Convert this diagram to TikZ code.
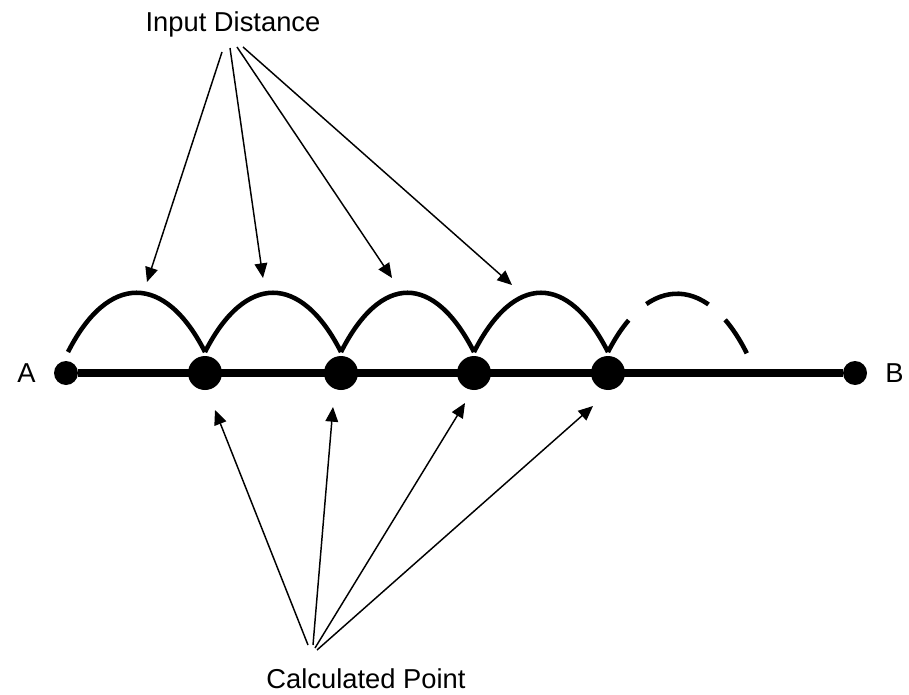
\documentclass[tikz,border=0pt]{standalone}
\usepackage{fontspec}
\setmainfont{Liberation Sans}
\usetikzlibrary{arrows.meta,positioning,calc}

\begin{document}
\begin{tikzpicture}[
    x=0.75pt, y=-0.75pt,
    node distance=10pt,
    every node/.style={font=\fontsize{20.5}{24}\selectfont},
    dot/.style={circle, fill, inner sep=0pt, minimum size=25.5pt},
    enddot/.style={circle, fill, inner sep=0pt, minimum size=18pt},
    hop/.style={line width=3.4pt},
    guess/.style={hop, dash pattern=on 28.5pt off 18pt on 50pt off 17pt on 30pt off 60pt},
    arrow/.style={-{Triangle[length=11pt,width=9.5pt]}, line width=1.1pt}
]
\useasboundingbox (0,0) rectangle (909,695);

% segment A--B with the calculated points
\node[enddot] (a) at (66,373) {};
\node[enddot] (b) at (855,373) {};
\node[dot] (p1) at (205,373) {};
\node[dot] (p2) at (341,373) {};
\node[dot] (p3) at (474,373) {};
\node[dot] (p4) at (608,373) {};
\draw[line width=6pt] (a) -- (b);
\node[left=of a] (la) {A};
\node[right=of b] (lb) {B};

% hops of the input distance
\coordinate (t0) at (68,352);
\coordinate (t1) at (205,352);
\coordinate (t2) at (341,352);
\coordinate (t3) at (474,352);
\coordinate (t4) at (608,352);
\coordinate (t5) at (750,360);
\draw[hop] (t0) .. controls +(40,-79) and +(-40,-79) .. (t1);
\draw[hop] (t1) .. controls +(40,-79) and +(-40,-79) .. (t2);
\draw[hop] (t2) .. controls +(40,-79) and +(-40,-79) .. (t3);
\draw[hop] (t3) .. controls +(40,-79) and +(-40,-79) .. (t4);
\draw[guess] (t4) .. controls +(40,-79) and +(-40,-87) .. (t5);

% labels
\node[anchor=base] (dist) at (233,32) {Input Distance};
\node[anchor=base] (calc) at (366,688) {Calculated Point};

\coordinate (i1) at (222,52);
\coordinate (i2) at (230,48);
\coordinate (i3) at (237,47);
\coordinate (i4) at (243,47);
\coordinate (h1) at (147,282);
\coordinate (h2) at (263,278);
\coordinate (h3) at (392,278);
\coordinate (h4) at (512,285);
\draw[arrow] (i1) -- (h1);
\draw[arrow] (i2) -- (h2);
\draw[arrow] (i3) -- (h3);
\draw[arrow] (i4) -- (h4);

\coordinate (c1) at (308,645);
\coordinate (c2) at (313,645);
\coordinate (c3) at (315,648);
\coordinate (c4) at (317,650);
\coordinate (q1) at (215,410);
\coordinate (q2) at (333,407);
\coordinate (q3) at (465,403);
\coordinate (q4) at (593,406);
\draw[arrow] (c1) -- (q1);
\draw[arrow] (c2) -- (q2);
\draw[arrow] (c3) -- (q3);
\draw[arrow] (c4) -- (q4);
\end{tikzpicture}
\end{document}
